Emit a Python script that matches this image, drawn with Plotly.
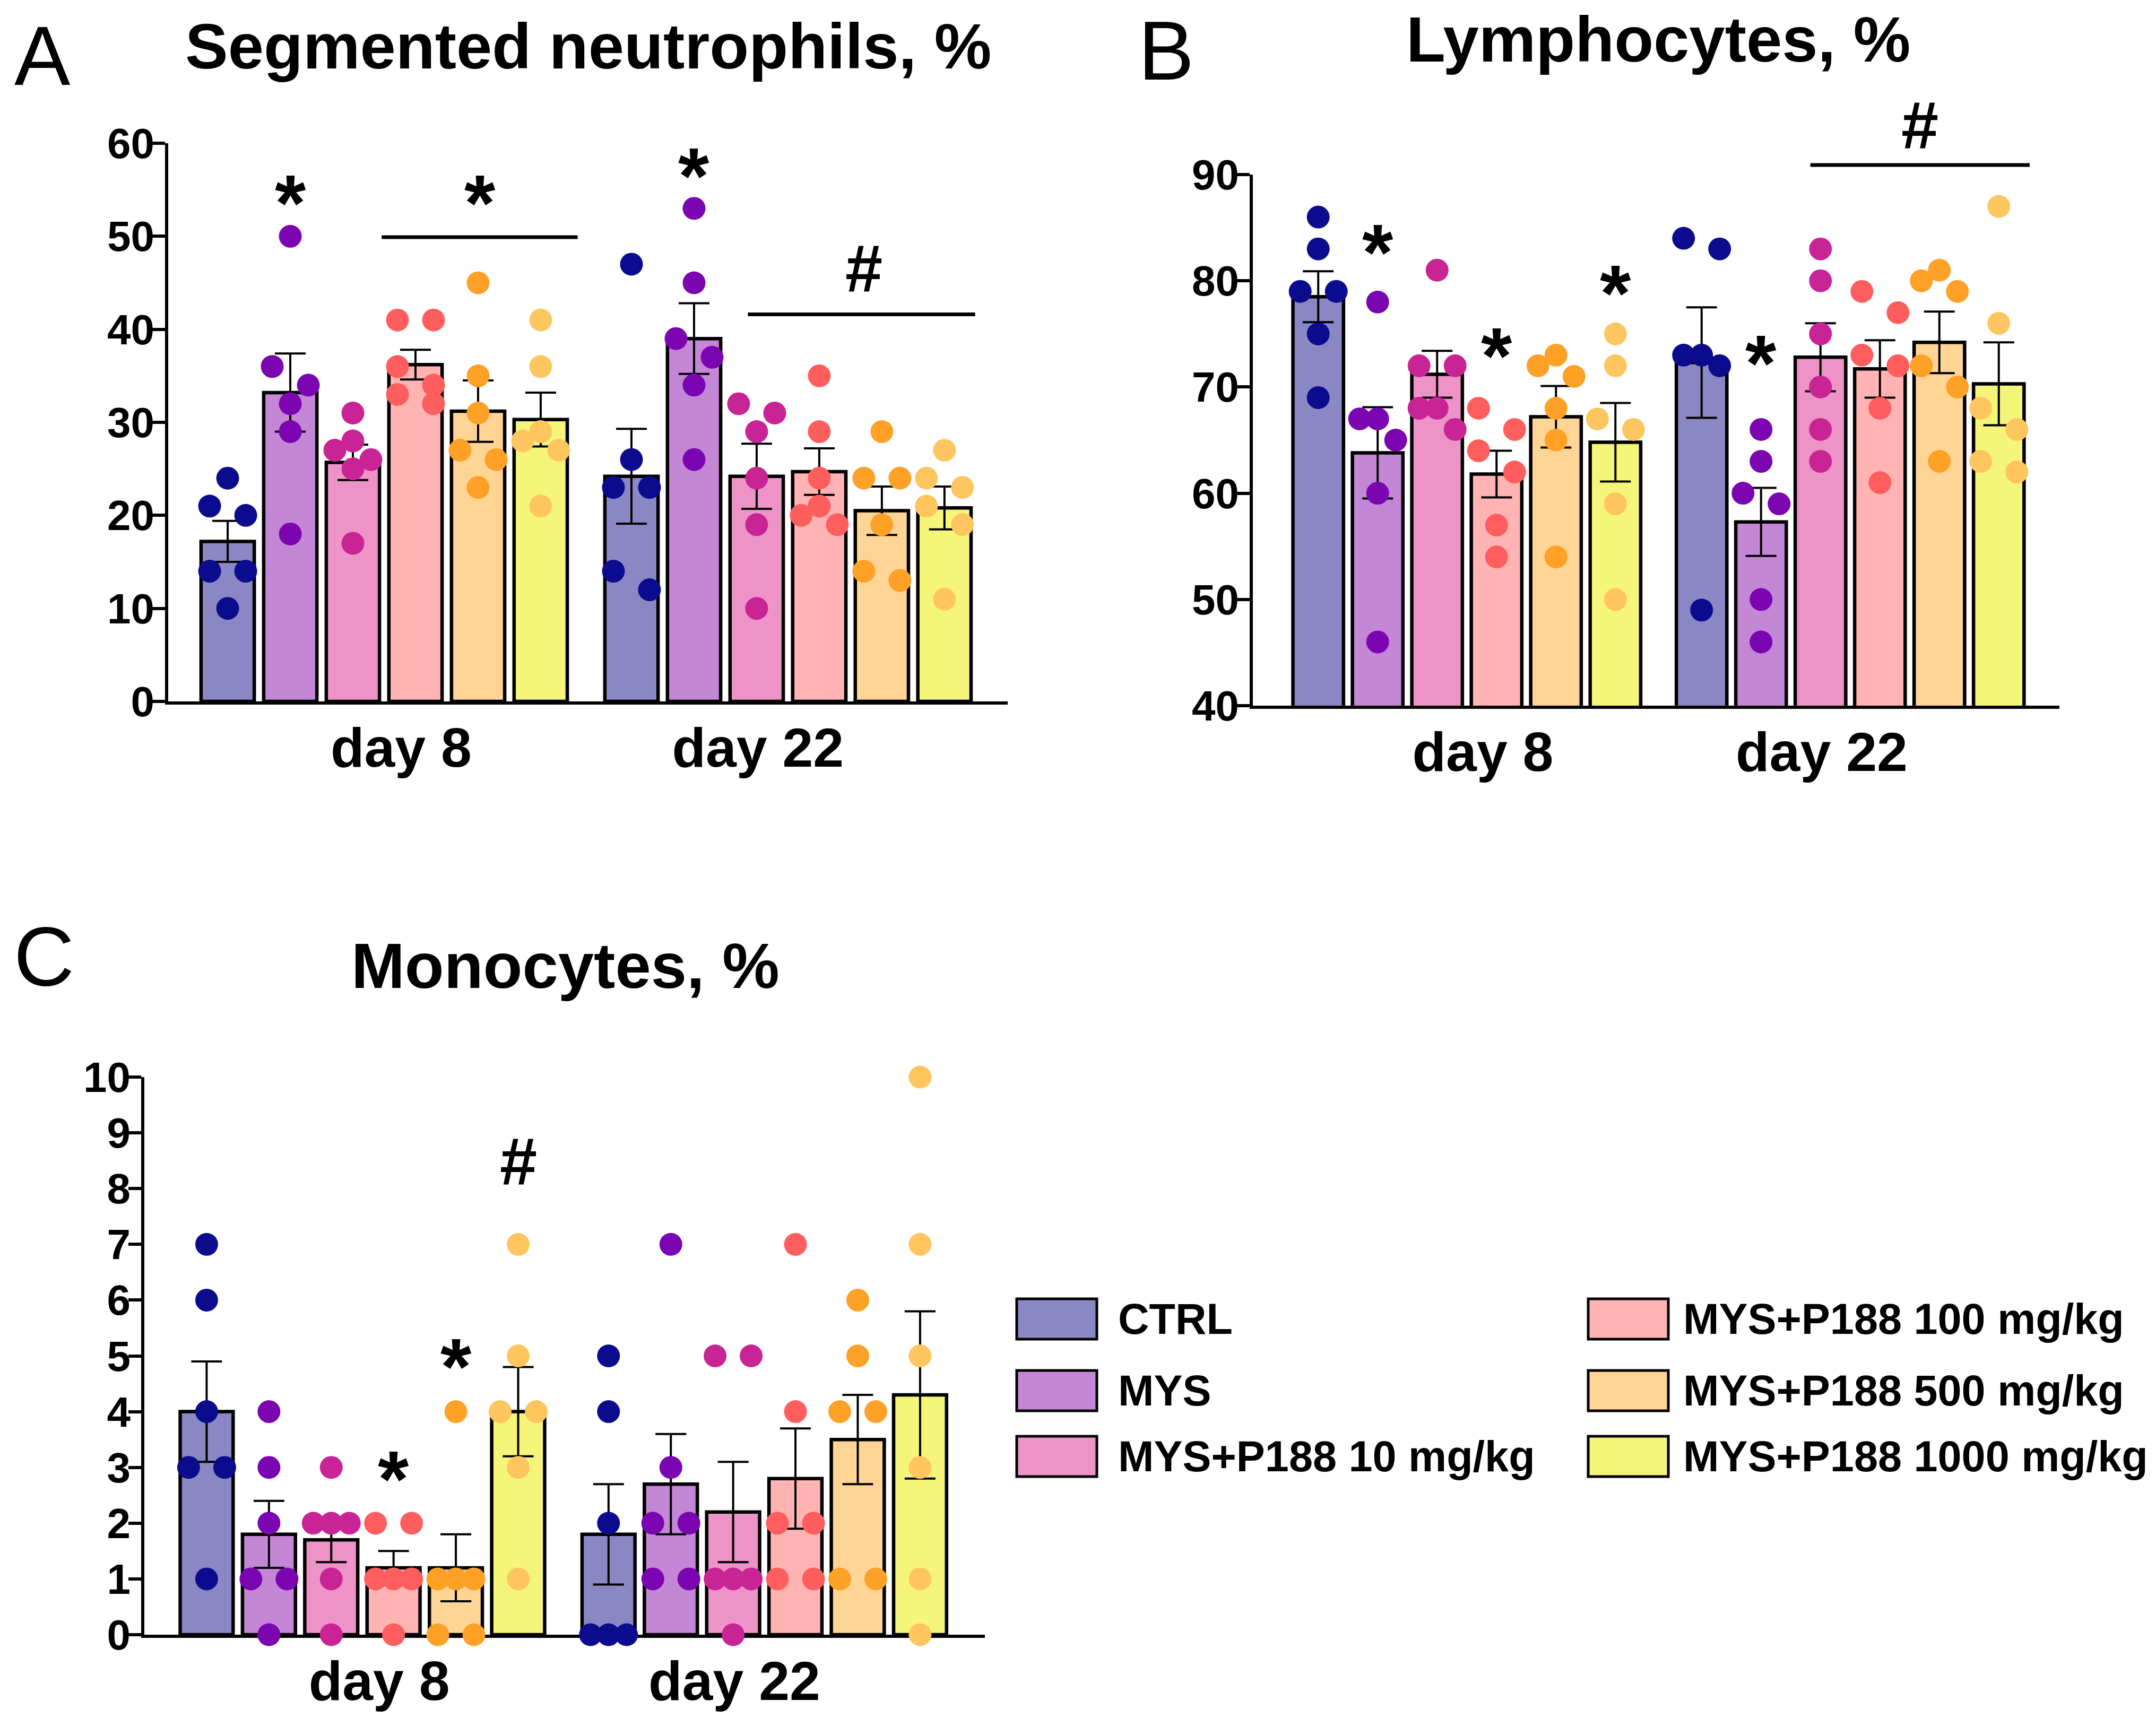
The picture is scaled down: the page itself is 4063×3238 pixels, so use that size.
import plotly.graph_objects as go

W, H = 4063, 3238
FONT = "Liberation Sans, Arial, sans-serif"

# ---------------- data ----------------
groups = ["CTRL", "MYS", "MYS+P188 10 mg/kg", "MYS+P188 100 mg/kg",
          "MYS+P188 500 mg/kg", "MYS+P188 1000 mg/kg"]
days = ["day 8", "day 22"]

neut_d8 = [[24, 21, 20, 14, 14, 10], [50, 36, 34, 32, 29, 18], [31, 28, 27, 26, 25, 17],
           [41, 41, 36, 34, 33, 32], [45, 35, 31, 27, 26, 23], [41, 36, 29, 28, 27, 21]]
neut_d22 = [[47, 26, 23, 23, 14, 12], [53, 45, 39, 37, 34, 26], [32, 31, 29, 24, 19, 10],
            [35, 29, 24, 21, 20, 19], [29, 24, 24, 19, 14, 13], [27, 24, 23, 21, 19, 11]]
neut_mean_d8 = [17.2, 33.2, 25.7, 36.2, 31.2, 30.3]
neut_sem_d8 = [2.2, 4.2, 1.9, 1.6, 3.3, 2.9]
neut_mean_d22 = [24.2, 39.0, 24.2, 24.7, 20.5, 20.8]
neut_sem_d22 = [5.1, 3.8, 3.5, 2.5, 2.6, 2.3]

lymph_d8 = [[86, 83, 79, 79, 75, 69], [78, 67, 67, 65, 60, 46], [81, 72, 72, 68, 68, 66],
            [68, 66, 64, 62, 57, 54], [73, 72, 71, 68, 65, 54], [75, 72, 67, 66, 59, 50]]
lymph_d22 = [[84, 83, 73, 73, 72, 49], [66, 63, 60, 59, 50, 46], [83, 80, 75, 70, 66, 63],
             [79, 77, 73, 72, 68, 61], [81, 80, 79, 72, 70, 63], [87, 76, 68, 66, 63, 62]]
lymph_mean_d8 = [78.5, 63.8, 71.2, 61.8, 67.2, 64.8]
lymph_sem_d8 = [2.4, 4.3, 2.2, 2.2, 2.9, 3.7]
lymph_mean_d22 = [72.3, 57.3, 72.8, 71.7, 74.2, 70.3]
lymph_sem_d22 = [5.2, 3.2, 3.2, 2.7, 2.9, 3.9]

mono_d8 = [[7, 6, 4, 3, 3, 1], [4, 3, 2, 1, 1, 0], [3, 2, 2, 2, 1, 0],
           [2, 2, 1, 1, 1, 0], [4, 1, 1, 1, 0, 0], [7, 5, 4, 4, 3, 1]]
mono_d22 = [[5, 4, 2, 0, 0, 0], [7, 3, 2, 2, 1, 1], [5, 5, 1, 1, 1, 0],
            [7, 4, 2, 2, 1, 1], [6, 5, 4, 4, 1, 1], [10, 7, 5, 3, 1, 0]]
mono_mean_d8 = [4.0, 1.8, 1.7, 1.2, 1.2, 4.0]
mono_sem_d8 = [0.9, 0.6, 0.4, 0.3, 0.6, 0.8]
mono_mean_d22 = [1.8, 2.7, 2.2, 2.8, 3.5, 4.3]
mono_sem_d22 = [0.9, 0.9, 0.9, 0.9, 0.8, 1.5]

# significance marks: (x position in bar units, y value, label)
neut_marks = [(1, 54.7, "*"), (7.45, 57.6, "*"), (4.03, 54.7, "*"), (10.16, 46.5, "#")]
neut_lines = [(2.46, 5.59, 49.9), (8.31, 11.94, 41.6)]
lymph_marks = [(1, 83.65, "*"), (3, 73.9, "*"), (5, 79.8, "*"), (7.45, 73.2, "*"), (10.12, 94.6, "#")]
lymph_lines = [(8.28, 11.97, 90.9)]
mono_marks = [(3, 2.98, "*"), (4, 5.0, "*"), (5, 8.48, "#")]
mono_lines = []

# ---------------- styles ----------------
bar_colors = ["#8B87C4", "#C487D6", "#EE93C8", "#FFB3B3", "#FFD596", "#F5F57A"]
dot_colors = ["#0B0B8E", "#7B05B0", "#C82496", "#FF5E5E", "#FFA126", "#FFC660"]
DAY_OFFSET = 6.45
BAR_W = 0.85
DOT = 43
COL_STEP = 34

panels = [
    dict(letter="A", title="Segmented neutrophils, %", pts=(neut_d8, neut_d22),
         mean=(neut_mean_d8, neut_mean_d22), sem=(neut_sem_d8, neut_sem_d22),
         marks=neut_marks, lines=neut_lines,
         xpx=(317, 1899), ypx=(1322, 270), xr=(-0.95, 12.46), yr=(0, 60), dtick=10,
         title_xy=(1108, 87), letter_xy=(80, 105)),
    dict(letter="B", title="Lymphocytes, %", pts=(lymph_d8, lymph_d22),
         mean=(lymph_mean_d8, lymph_mean_d22), sem=(lymph_sem_d8, lymph_sem_d22),
         marks=lymph_marks, lines=lymph_lines,
         xpx=(2361, 3881), ypx=(1330, 329), xr=(-1.10, 12.47), yr=(40, 90), dtick=10,
         title_xy=(3125, 74), letter_xy=(2197, 95)),
    dict(letter="C", title="Monocytes, %", pts=(mono_d8, mono_d22),
         mean=(mono_mean_d8, mono_mean_d22), sem=(mono_sem_d8, mono_sem_d22),
         marks=mono_marks, lines=mono_lines,
         xpx=(272, 1856), ypx=(3081, 2030), xr=(-1.0, 12.49), yr=(0, 10), dtick=1,
         title_xy=(1065, 1820), letter_xy=(83, 1802)),
]


def swarm(vals, ppu_y):
    """GraphPad-like row spreading; returns pixel offsets."""
    idx = sorted(range(len(vals)), key=lambda i: -vals[i])
    rows, cur = [], []
    for i in idx:
        if cur and (vals[cur[0]] - vals[i]) * ppu_y >= DOT:
            rows.append(cur)
            cur = []
        cur.append(i)
    if cur:
        rows.append(cur)
    offs = [0.0] * len(vals)
    for row in rows:
        k = len(row)
        if k % 2:
            cols = [0]
            for j in range(1, (k - 1) // 2 + 1):
                cols += [-j, j]
        else:
            cols = []
            for j in range(1, k // 2 + 1):
                cols += [-j, j]
        for i, c in zip(row, cols):
            offs[i] = c * COL_STEP
    return offs


fig = go.Figure()
annotations, shapes = [], []
layout = {}

for pi, p in enumerate(panels):
    n = "" if pi == 0 else str(pi + 1)
    xa, ya = "x" + n, "y" + n
    ppu_x = (p["xpx"][1] - p["xpx"][0]) / (p["xr"][1] - p["xr"][0])
    ppu_y = (p["ypx"][0] - p["ypx"][1]) / (p["yr"][1] - p["yr"][0])

    def to_paper(x, y, p=p, ppu_x=ppu_x, ppu_y=ppu_y):
        px = p["xpx"][0] + (x - p["xr"][0]) * ppu_x
        py = p["ypx"][0] - (y - p["yr"][0]) * ppu_y
        return px / W, 1 - py / H

    bx, by, be, bc = [], [], [], []
    dx, dy, dc = [], [], []
    for d in range(2):
        for g in range(6):
            pos = g + d * DAY_OFFSET
            bx.append(pos)
            by.append(p["mean"][d][g])
            be.append(p["sem"][d][g])
            bc.append(bar_colors[g])
            vals = p["pts"][d][g]
            offs = swarm(vals, ppu_y)
            for v, o in zip(vals, offs):
                dx.append(pos + o / ppu_x)
                dy.append(v)
                dc.append(dot_colors[g])

    fig.add_trace(go.Bar(
        x=bx, y=by, width=BAR_W, xaxis=xa, yaxis=ya, showlegend=False, hoverinfo="skip",
        marker=dict(color=bc, line=dict(color="black", width=6.5)),
        error_y=dict(type="data", array=be, symmetric=True, color="black", thickness=4, width=29)))
    fig.add_trace(go.Scatter(
        x=dx, y=dy, mode="markers", xaxis=xa, yaxis=ya, showlegend=False, hoverinfo="skip",
        cliponaxis=False, marker=dict(size=DOT, color=dc, line=dict(width=0))))

    layout["xaxis" + n] = dict(
        domain=[p["xpx"][0] / W, p["xpx"][1] / W], range=list(p["xr"]), anchor=ya,
        showline=True, linecolor="black", linewidth=6, ticks="", showgrid=False, zeroline=False,
        tickvals=[2.77, 8.47], ticktext=days, layer="below traces", ticklabelstandoff=-8,
        automargin=False,
        tickfont=dict(family=FONT, size=104, color="black", weight="bold"))
    layout["yaxis" + n] = dict(
        domain=[1 - p["ypx"][0] / H, 1 - p["ypx"][1] / H], range=list(p["yr"]), anchor=xa,
        showline=True, linecolor="black", linewidth=6, ticks="outside", ticklen=24, tickwidth=6,
        tickcolor="black", dtick=p["dtick"], tick0=0, showgrid=False, zeroline=False,
        layer="below traces", ticklabelstandoff=-20, automargin=False,
        tickfont=dict(family=FONT, size=80, color="black", weight="bold"))

    # titles and panel letters
    annotations.append(dict(x=p["title_xy"][0] / W, y=1 - p["title_xy"][1] / H, xref="paper", yref="paper",
                            text=p["title"], showarrow=False, xanchor="center", yanchor="middle",
                            font=dict(family=FONT, size=121, color="black", weight="bold")))
    annotations.append(dict(x=p["letter_xy"][0] / W, y=1 - p["letter_xy"][1] / H, xref="paper", yref="paper",
                            text=p["letter"], showarrow=False, xanchor="center", yanchor="middle",
                            font=dict(family=FONT, size=158, color="black")))
    # significance
    for (x, y, lab) in p["marks"]:
        xp, yp = to_paper(x, y)
        annotations.append(dict(x=xp, y=yp, xref="paper", yref="paper", text=lab, showarrow=False,
                                xanchor="center", yanchor="middle",
                                yshift=-20 if lab == "*" else 0,
                                font=dict(family=FONT, size=150 if lab == "*" else 126,
                                          color="black", weight="bold")))
    for (x0, x1, y) in p["lines"]:
        a0, b0 = to_paper(x0, y)
        a1, b1 = to_paper(x1, y)
        shapes.append(dict(type="line", xref="paper", yref="paper", x0=a0, x1=a1, y0=b0, y1=b1,
                           line=dict(color="black", width=7)))

# ---------------- legend (manual) ----------------
legend_cols = [(1916, 2105), (2993, 3170)]
legend_rows = [2486, 2621, 2745]
BOX_W, BOX_H = 151, 76
for g, name in enumerate(groups):
    bx0, tx = legend_cols[g // 3]
    cy = legend_rows[g % 3]
    shapes.append(dict(type="rect", xref="paper", yref="paper",
                       x0=bx0 / W, x1=(bx0 + BOX_W) / W,
                       y0=1 - (cy + BOX_H / 2) / H, y1=1 - (cy - BOX_H / 2) / H,
                       fillcolor=bar_colors[g], line=dict(color="black", width=5)))
    annotations.append(dict(x=tx / W, y=1 - cy / H, xref="paper", yref="paper", text=name,
                            showarrow=False, xanchor="left", yanchor="middle",
                            font=dict(family=FONT, size=81, color="black", weight="bold")))

fig.update_layout(template="none", width=W, height=H, autosize=False,
                  margin=dict(l=0, r=0, t=0, b=0, pad=0),
                  paper_bgcolor="white", plot_bgcolor="rgba(0,0,0,0)",
                  annotations=annotations, shapes=shapes, showlegend=False, **layout)

fig.write_html("out.html", config={"responsive": False, "displayModeBar": False},
               post_script="document.body.style.margin='0';")
